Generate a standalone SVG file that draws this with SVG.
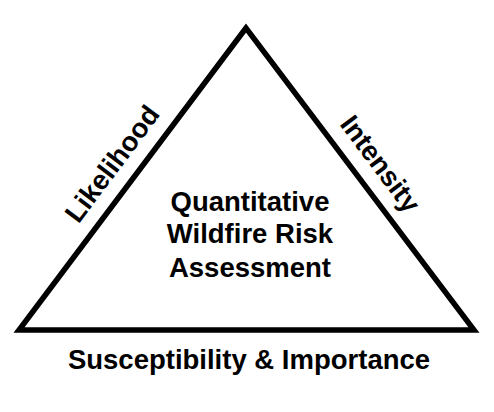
<svg xmlns="http://www.w3.org/2000/svg" width="494" height="412" viewBox="0 0 494 412">
<style>
.t{font-family:"Liberation Sans",Arial,sans-serif;font-weight:bold;font-size:27.5px;fill:#000;text-anchor:middle}
.edge{fill:none;stroke:#000;stroke-width:5.5;stroke-linejoin:miter;stroke-miterlimit:10}
</style>
<rect width="494" height="412" fill="#fff"/>
<g id="connectors">
<polygon class="edge" points="246,28 19,330 474,330"/>
</g>
<g id="center">
<text class="t" x="250" y="210.5">Quantitative</text>
<text class="t" x="250" y="243">Wildfire Risk</text>
<text class="t" x="250" y="276.5">Assessment</text>
</g>
<g id="likelihood">
<text class="t" transform="translate(119.7,169.4) rotate(-53.13)">Likelihood</text>
</g>
<g id="intensity">
<text class="t" transform="translate(372.8,169.4) rotate(53.13)">Intensity</text>
</g>
<g id="bottom">
<text class="t" x="249" y="369">Susceptibility &amp; Importance</text>
</g>
</svg>
